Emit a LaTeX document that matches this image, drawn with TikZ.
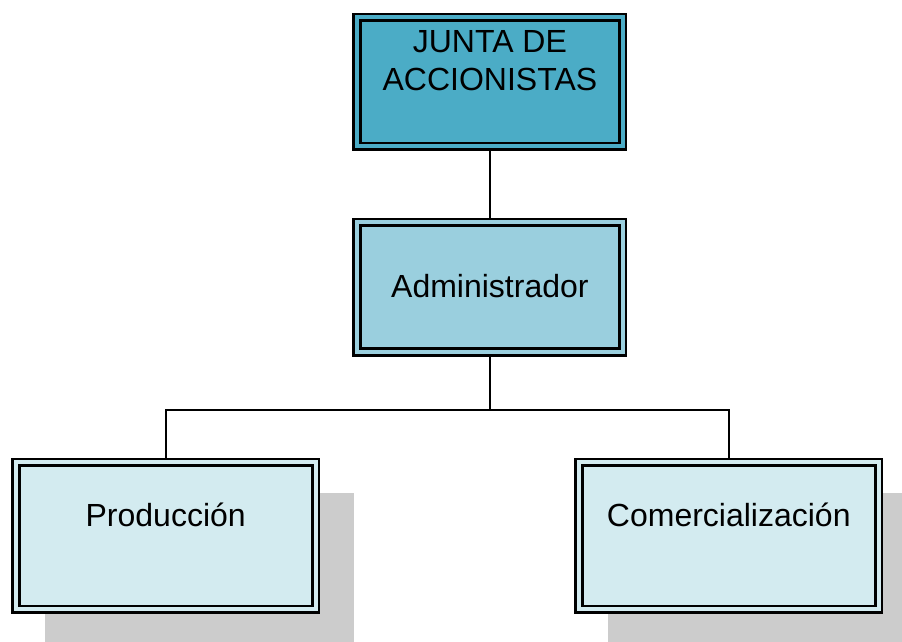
\documentclass[tikz,border=0pt]{standalone}
\usepackage{fontspec}
\setmainfont{Liberation Sans}
\definecolor{topblue}{HTML}{4BACC6}
\definecolor{midblue}{HTML}{9ACFDE}
\definecolor{lowblue}{HTML}{D3EBF0}
\definecolor{shadegray}{HTML}{CCCCCC}
\begin{document}
\begin{tikzpicture}[x=1pt,y=-1pt,
  orgbox/.style={rectangle, draw=black, line width=2.7pt, double distance=4pt,
    inner sep=0pt, outer sep=4.7pt},
  lbl/.style={font=\fontsize{32}{37.4}\selectfont, inner sep=0pt, align=center},
  link/.style={line width=2pt},
  shadowbox/.style={fill=shadegray}]
\useasboundingbox (0,0) rectangle (902,641);
\clip (0,0) rectangle (902,641);

% boxes
\node[orgbox, fill=topblue, double=topblue, minimum width=265.7pt, minimum height=129.1pt] (junta) at (489.9,81.75) {};
\node[orgbox, fill=midblue, double=midblue, minimum width=265.7pt, minimum height=129.4pt] (adm) at (489.9,287.1) {};

% shadows of the lower boxes
\path[shadowbox] (45.1,492.7) rectangle ++(309.2,156);
\path[shadowbox] (608.4,492.7) rectangle ++(308.8,156);

\node[orgbox, fill=lowblue, double=lowblue, minimum width=299.8pt, minimum height=146.9pt] (prod) at (165.7,535.85) {};
\node[orgbox, fill=lowblue, double=lowblue, minimum width=299.4pt, minimum height=146.9pt] (com) at (728.8,535.85) {};

% labels
\node[lbl, anchor=north] (juntatxt) at (489.9,30.4) {JUNTA DE\\ACCIONISTAS};
\node[lbl, anchor=base] (admtxt) at (489.9,297.3) {Administrador};
\node[lbl, anchor=base] (prodtxt) at (165.7,526) {Producción};
\node[lbl, anchor=base] (comtxt) at (728.8,526) {Comercialización};

% connectors
\coordinate (bus) at (489.9,410);
\draw[link] (junta.south) -- (adm.north);
\draw[link] (adm.south) -- (bus);
\draw[link] (prod.north) |- (bus) -| (com.north);
\end{tikzpicture}
\end{document}
